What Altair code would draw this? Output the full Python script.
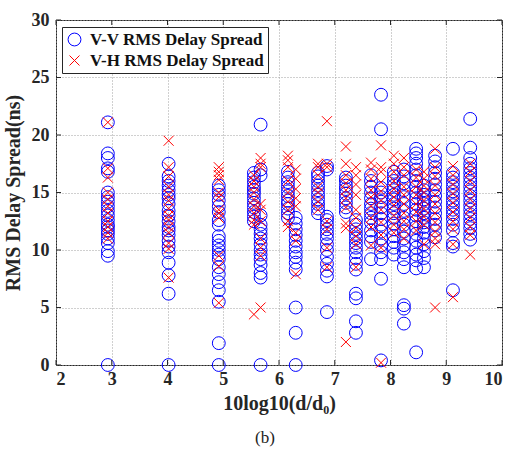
import altair as alt
import pandas as pd

series = ["V-V RMS Delay Spread", "V-H RMS Delay Spread"]
x_ticks = [2, 3, 4, 5, 6, 7, 8, 9, 10]
y_ticks = [0, 5, 10, 15, 20, 25, 30]

col_x = [2.93, 4.02, 4.92, 5.55, 5.67, 6.16, 6.30, 6.70, 6.86, 7.20,
         7.38, 7.65, 7.83, 8.06, 8.24, 8.46, 8.60, 8.80, 9.12, 9.43]

vv_y = [
    [21.1, 18.4, 18.0, 17.1, 16.8, 15.0, 14.6, 14.2, 13.8, 13.4, 13.0, 12.6, 12.2, 12.0, 11.7, 11.4, 11.0, 10.6, 9.9, 9.5, 0],
    [17.5, 16.4, 16.0, 15.6, 15.2, 14.8, 14.5, 14.0, 13.4, 13.0, 12.5, 12.0, 11.7, 11.3, 10.8, 10.3, 9.8, 8.9, 7.8, 6.2, 0],
    [15.6, 15.2, 14.8, 14.3, 13.8, 13.3, 12.6, 12.2, 11.2, 10.8, 10.4, 10.0, 9.6, 9.2, 8.5, 7.9, 7.2, 6.5, 5.5, 1.9, 0],
    [16.7, 16.3, 15.9, 15.5, 15.2, 14.9, 14.5, 14.1, 13.7, 13.3, 12.9, 12.5],
    [20.9, 17.0, 16.5, 13.0, 12.2, 11.8, 11.4, 11.0, 10.5, 10.0, 9.6, 9.2, 8.7, 8.0, 7.6, 0],
    [16.8, 16.3, 15.9, 15.5, 15.1, 14.7, 14.3, 14.0, 13.6, 13.2, 12.8],
    [12.8, 12.3, 11.8, 11.3, 10.8, 10.3, 9.8, 9.4, 8.9, 8.3, 5.0, 2.8, 0],
    [16.7, 16.4, 16.0, 15.6, 15.2, 14.8, 14.4, 14.0, 13.6, 13.2],
    [17.3, 17.0, 12.9, 12.6, 12.2, 11.8, 11.4, 11.0, 10.5, 10.0, 9.4, 8.8, 8.2, 7.7, 4.6],
    [16.3, 16.0, 15.6, 15.3, 14.9, 14.5, 14.1, 13.7, 13.3],
    [12.6, 12.2, 11.8, 11.4, 11.0, 10.6, 10.2, 9.8, 9.3, 8.8, 8.3, 6.2, 5.8, 3.8, 2.8],
    [16.5, 16.0, 15.5, 15.0, 14.5, 14.0, 13.6, 13.2, 12.8, 12.4, 11.7, 11.2, 10.7, 9.2],
    [23.5, 20.5, 15.4, 15.0, 14.6, 14.2, 13.7, 13.2, 12.7, 12.2, 11.6, 11.0, 10.4, 9.8, 9.2, 7.5, 0.4],
    [16.8, 16.4, 16.0, 15.6, 15.2, 14.8, 14.4, 14.0, 13.6, 13.2, 12.8, 12.3, 11.8, 11.2, 10.7, 10.2, 9.6],
    [17.0, 16.4, 15.8, 15.2, 14.6, 14.0, 13.4, 12.8, 12.2, 11.6, 11.0, 10.4, 9.8, 9.2, 8.5, 5.2, 4.9, 3.6],
    [18.8, 18.4, 18.0, 17.5, 17.0, 16.5, 16.0, 15.5, 15.0, 14.5, 14.0, 13.5, 13.0, 12.5, 12.0, 11.4, 10.8, 10.2, 9.6, 9.1, 8.4, 1.1],
    [15.6, 15.2, 14.8, 14.4, 14.0, 13.6, 13.2, 12.8, 12.4, 12.0, 11.5, 11.0, 10.5, 9.9, 9.3, 8.5],
    [18.2, 17.7, 17.2, 16.7, 16.2, 15.7, 15.2, 14.7, 14.2, 13.7, 13.2, 12.7, 12.2, 11.7, 11.1],
    [18.8, 16.7, 16.3, 15.9, 15.5, 15.1, 14.7, 14.3, 13.9, 13.5, 13.1, 12.7, 12.2, 11.7, 10.6, 10.3, 6.5],
    [21.4, 18.9, 18.0, 17.5, 17.1, 16.7, 16.3, 15.9, 15.5, 15.1, 14.7, 14.3, 13.9, 13.5, 13.1, 12.7, 12.3, 11.9, 11.4, 10.9],
]

vh_y = [
    [21.1, 17.1, 16.3, 15.0, 14.4, 13.8, 13.2, 12.5, 12.0, 11.5, 11.0],
    [19.5, 17.2, 16.4, 15.5, 14.8, 14.3, 13.6, 13.0, 12.6, 12.0, 11.5, 10.6, 10.1, 7.6],
    [17.2, 16.8, 16.5, 16.1, 15.0, 14.6, 13.5, 13.2, 12.8, 9.5, 8.6, 5.4],
    [16.5, 16.0, 15.5, 15.0, 14.4, 13.8, 13.2, 12.6, 12.2, 4.4],
    [18.0, 17.5, 17.2, 14.0, 13.5, 12.5, 11.0, 10.2, 9.5, 5.0],
    [18.2, 17.8, 17.2, 16.0, 15.0, 14.2, 13.5, 12.5, 12.0],
    [17.0, 16.2, 15.3, 14.5, 13.8, 11.5, 10.8, 7.9],
    [17.5, 17.2, 16.5, 15.5, 15.0, 14.2, 13.5],
    [21.2, 17.5, 17.2, 12.5, 11.8, 10.2, 8.5],
    [19.0, 17.5, 16.5, 15.8, 15.2, 14.5, 13.7, 12.3, 11.9, 2.0],
    [17.2, 16.5, 15.7, 14.8, 13.5, 12.8, 11.9, 11.2, 10.5, 8.5],
    [17.6, 17.0, 16.2, 15.2, 14.6, 13.8, 12.8, 12.0, 10.4],
    [19.1, 17.2, 16.8, 15.9, 15.1, 14.3, 13.5, 12.4, 11.3, 10.2, 0.2],
    [18.2, 17.5, 16.8, 16.0, 15.3, 14.6, 13.9, 13.0, 12.2, 11.5],
    [18.0, 17.2, 16.5, 15.5, 14.8, 14.0, 13.2, 12.5, 11.8, 11.0],
    [17.0, 16.3, 15.5, 14.8, 14.0, 13.3, 12.5, 11.7],
    [16.8, 16.2, 15.6, 15.0, 14.3, 13.6, 12.9, 12.2, 10.5],
    [18.8, 17.2, 16.4, 15.6, 14.8, 14.0, 13.2, 12.4, 11.6, 11.0, 10.5, 5.0],
    [17.3, 16.5, 15.7, 14.9, 14.1, 13.3, 12.5, 11.8, 10.5, 5.9],
    [17.5, 16.8, 16.0, 15.2, 14.4, 13.6, 12.8, 12.0, 11.3, 9.6],
]

rows = []
for name, cols in zip(series, [vv_y, vh_y]):
    for xv, ys in zip(col_x, cols):
        for yv in ys:
            rows.append({"x": xv, "y": yv, "s": name})
df = pd.DataFrame(rows)

W, H = 446, 345
FONT = "Liberation Serif, Times New Roman, serif"
CROSS = "M-1,-1L1,1M-1,1L1,-1"

pts = alt.Chart(df).mark_point(filled=False, strokeWidth=1, opacity=1).encode(
    x=alt.X("x:Q", scale=alt.Scale(domain=[2, 10], nice=False, zero=False),
            axis=alt.Axis(values=x_ticks, title="10log10(d/d₀)", format="d")),
    y=alt.Y("y:Q", scale=alt.Scale(domain=[0, 30], nice=False),
            axis=alt.Axis(values=y_ticks, title="RMS Delay Spread(ns)", format="d")),
    color=alt.Color("s:N", scale=alt.Scale(domain=series, range=["#0000ff", "#ff0000"]),
                    legend=alt.Legend(title=None)),
    shape=alt.Shape("s:N", scale=alt.Scale(domain=series, range=["circle", CROSS]),
                    legend=alt.Legend(title=None)),
    size=alt.Size("s:N", scale=alt.Scale(domain=series, range=[165, 100]), legend=None),
)

xt = pd.DataFrame({"t": x_ticks})
yt = pd.DataFrame({"t": y_ticks})
tick_col = "#262626"
xs = alt.Scale(domain=[2, 10], nice=False, zero=False)
ys_ = alt.Scale(domain=[0, 30], nice=False)
bot = alt.Chart(xt).mark_rule(color=tick_col).encode(
    x=alt.X("t:Q", scale=xs), y=alt.value(H), y2=alt.value(H - 5))
top = alt.Chart(xt).mark_rule(color=tick_col).encode(
    x=alt.X("t:Q", scale=xs), y=alt.value(0), y2=alt.value(5))
lef = alt.Chart(yt).mark_rule(color=tick_col).encode(
    y=alt.Y("t:Q", scale=ys_), x=alt.value(0), x2=alt.value(5))
rig = alt.Chart(yt).mark_rule(color=tick_col).encode(
    y=alt.Y("t:Q", scale=ys_), x=alt.value(W), x2=alt.value(W - 5))

cap = alt.Chart(pd.DataFrame({"c": ["(b)"]})).mark_text(
    font=FONT, fontSize=17, color="#222222", baseline="middle", align="center"
).encode(x=alt.value(209), y=alt.value(418), text="c:N")

chart = alt.layer(pts, bot, top, lef, rig, cap).properties(
    width=W, height=H,
    autosize=alt.AutoSizeParams(type="none"),
    padding={"left": 56, "top": 20, "right": 12, "bottom": 91},
).configure_view(
    stroke=tick_col, strokeWidth=1
).configure_axis(
    grid=True, gridColor="#a0a0a0", gridDash=[1, 2], gridWidth=1, gridOpacity=1,
    ticks=False, domain=False,
    labelFont=FONT, labelFontWeight="bold", labelFontSize=18, labelColor="#262626",
    titleFont=FONT, titleFontWeight="bold", titleFontSize=20, titleColor="#262626",
).configure_axisX(
    labelPadding=5, titlePadding=5,
).configure_axisY(
    labelPadding=7, titlePadding=8,
).configure_legend(
    orient="none", legendX=6, legendY=7,
    strokeColor=tick_col, fillColor="white", padding=4, cornerRadius=0,
    labelFont=FONT, labelFontWeight="bold", labelFontSize=17, labelColor="#111111",
    symbolSize=150, symbolStrokeWidth=1, labelOffset=7, rowPadding=3,
    labelLimit=0,
)

chart.save("out.html", embed_options={"renderer": "svg", "actions": False})
